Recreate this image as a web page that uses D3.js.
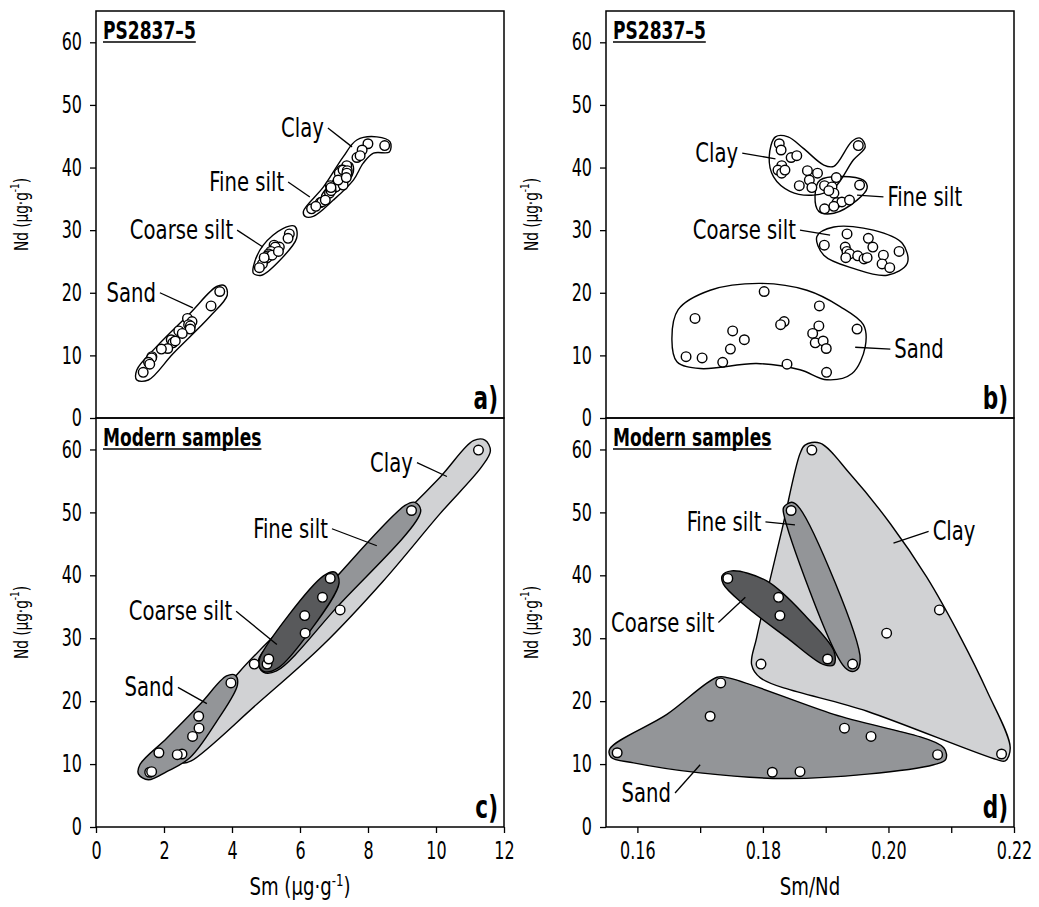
<!DOCTYPE html>
<html>
<head>
<meta charset="utf-8">
<script src="https://cdn.jsdelivr.net/npm/d3@7"></script>
<style>
body { margin: 0; background: #fff; }
text { font-family: "DejaVu Sans Condensed", "DejaVu Sans", sans-serif; fill: #000; }
</style>
</head>
<body>
<script>
// PS2837-5 core samples, [Sm, Nd] in µg/g
const coreSand = [[3.640,20.2],[3.383,17.9],[2.690,15.9],[2.824,15.4],[2.724,14.9],[2.777,14.7],[2.435,13.9],
    [2.769,14.2],[2.537,13.5],[2.213,12.5],[2.260,12.0],[2.332,12.3],[2.110,11.1],[1.923,11.0],[1.644,9.8],
    [1.635,9.6],[1.545,8.9],[1.581,8.6],[1.388,7.3]];
const coreCoarseSilt = [[5.686,29.4],[5.648,28.7],[5.238,27.6],[5.392,27.3],[5.272,27.3],[5.144,26.6],[5.078,26.2],
    [5.053,25.9],[4.981,25.4],[5.033,25.6],[5.179,26.0],[5.365,26.6],[4.895,24.6],[4.805,24.0],[4.946,25.6]];
const coreFineSilt = [[7.042,37.1],[7.048,36.9],[7.269,37.2],[6.868,35.9],[6.598,34.4],[6.644,34.5],[6.744,34.8],
    [6.340,33.4],[6.466,33.8],[6.915,36.3]];
const coreClay = [[7.998,43.8],[7.828,42.8],[7.675,41.6],[7.768,41.9],[7.375,40.3],[7.223,39.6],[7.155,39.1],
    [7.267,39.6],[6.893,37.1],[7.390,39.5],[7.378,39.1],[7.121,38.0],[6.911,36.8],[7.361,38.4],[8.491,43.5]];

// modern samples, [Sm, Nd] in µg/g
const modernClay = [[11.249,59.9],[7.180,34.5],[6.151,30.8],[4.654,25.9],[2.529,11.6]];
const modernFineSilt = [[9.280,50.3],[5.032,25.9]];
const modernCoarseSilt = [[6.889,39.5],[6.661,36.5],[6.139,33.6],[5.081,26.7]];
const modernSand = [[3.968,22.9],[3.020,17.6],[3.030,15.7],[2.840,14.4],[1.850,11.8],[2.390,11.5],[1.579,8.7],[1.636,8.8]];

// tick values
const ndTicks = [0, 10, 20, 30, 40, 50, 60];
const smTicks = [0, 2, 4, 6, 8, 10, 12];
const ratioTicks = [0.16, 0.17, 0.18, 0.19, 0.20, 0.21, 0.22];

// group outlines (data units: [x, Nd])
const aSandOutline = [[1.20,7.67],[1.78,11.4],[2.76,16.7],[3.55,21.0],[3.79,21.1],[3.86,19.6],[3.35,16.2],[2.27,10.3],[1.54,6.07],[1.20,6.07]];
const aCoarseOutline = [[4.63,24.2],[4.92,27.6],[5.51,30.3],[5.85,30.6],[5.90,28.7],[5.41,25.2],[4.87,22.8],[4.63,23.1]];
const aFineOutline = [[6.64,35.6],[6.98,38.0],[7.32,40.4],[7.52,40.7],[7.57,39.3],[7.27,36.9],[6.88,35.6],[6.64,35.1]];
const aClayOutline = [[6.10,33.0],[6.69,36.9],[7.27,41.7],[7.67,44.4],[8.26,44.9],[8.65,44.1],[8.63,42.5],[8.16,42.3],
    [7.86,40.7],[7.57,38.0],[6.98,34.8],[6.39,32.2],[6.15,32.2]];

const bClayOutline = [[0.1820,44.9],[0.1810,41.7],[0.1817,38.5],[0.1843,36.2],[0.1881,35.6],[0.1913,36.7],[0.1944,41.2],
    [0.1963,43.3],[0.1955,44.7],[0.1942,44.2],[0.1913,40.2],[0.1897,40.4],[0.1864,43.1],[0.1840,44.9]];
const bFineOutline = [[0.1891,38.0],[0.1960,38.0],[0.1966,36.7],[0.1950,34.8],[0.1913,32.7],[0.1889,33.0],[0.1883,35.4]];
const bCoarseOutline = [[0.1886,29.0],[0.1913,30.5],[0.1976,30.0],[0.2022,27.9],[0.2030,24.7],[0.1998,22.8],[0.1944,23.9],[0.1897,26.0]];
const bSandOutline = [[0.1655,12.5],[0.1665,17.3],[0.1716,20.4],[0.1796,21.5],[0.1870,20.4],[0.1923,17.8],[0.1960,14.9],
    [0.1963,11.4],[0.1942,7.1],[0.1902,6.1],[0.1859,7.7],[0.1790,8.7],[0.1700,7.9],[0.1663,9.0]];

const cClayOutline = [[11.10,61.4],[11.44,61.5],[11.60,59.8],[11.35,57.3],[10.12,49.8],[8.45,39.1],[6.69,29.0],[4.73,19.5],
    [2.80,10.5],[2.55,10.2],[2.38,11.0],[2.60,13.8],[4.24,24.8],[6.20,35.4],[8.45,46.6],[10.12,55.6]];
const cSandOutline = [[1.29,9.9],[2.08,14.1],[3.06,19.5],[3.84,24.0],[4.10,24.1],[4.16,22.6],[3.55,16.8],[2.76,11.0],
    [2.08,8.8],[1.54,7.5],[1.25,8.4]];
const cFineOutline = [[4.77,26.4],[6.69,37.5],[9.09,51.1],[9.38,51.6],[9.55,50.2],[7.08,34.9],[5.31,24.8],[4.92,24.6]];
const cCoarseOutline = [[4.82,26.9],[6.69,39.9],[7.03,40.5],[7.15,38.8],[6.29,31.1],[5.36,25.3],[4.95,24.7],[4.80,25.6]];

const dClayOutline = [[0.1867,60.7],[0.1891,61.0],[0.1939,56.1],[0.2003,48.2],[0.2061,39.7],[0.2115,30.1],[0.2157,21.6],
    [0.2194,12.6],[0.2186,10.5],[0.2173,10.7],[0.1966,18.4],[0.1796,23.7],[0.1782,25.8],[0.1790,30.1],[0.1830,47.1],[0.1859,59.3]];
const dFineOutline = [[0.1833,50.8],[0.1846,51.6],[0.1859,50.6],[0.1955,26.6],[0.1947,24.8],[0.1931,25.3],[0.1833,49.8]];
const dCoarseOutline = [[0.1735,39.9],[0.1750,40.7],[0.1806,39.1],[0.1870,33.3],[0.1913,28.0],[0.1913,25.8],[0.1897,25.8],
    [0.1838,30.1],[0.1769,35.4],[0.1737,38.6]];
const dSandOutline = [[0.1556,12.4],[0.1647,17.9],[0.1727,23.8],[0.1745,23.7],[0.1913,17.9],[0.2088,12.6],[0.2091,10.7],
    [0.2072,9.9],[0.1966,8.4],[0.1833,7.7],[0.1700,8.6],[0.1594,10.2],[0.1558,11.1]];

const width = 1039, height = 907;
const cols = [{x0: 96, x1: 504}, {x0: 606, x1: 1014}];
const rows = [{y0: 11, y1: 418}, {y0: 418, y1: 827}];

const clayFill = '#d1d2d4', midFill = '#939598', darkFill = '#58595b';

const panels = [
    {letter: 'a)', col: 0, row: 0, ratio: false, title: 'PS2837–5',
     shapes: [[aSandOutline, 'none'], [aCoarseOutline, 'none'], [aClayOutline, 'none'], [aFineOutline, 'none']],
     points: [coreSand, coreCoarseSilt, coreFineSilt, coreClay],
     labels: [['Clay', [6.82,46.3], [7.53,43.3], 'end'], ['Fine silt', [5.65,37.7], [6.29,35.3], 'end'],
              ['Coarse silt', [4.15,30.0], [4.91,27.3], 'end'], ['Sand', [1.88,20.0], [2.85,17.6], 'end']]},
    {letter: 'b)', col: 1, row: 0, ratio: true, title: 'PS2837–5',
     shapes: [[bSandOutline, 'none'], [bCoarseOutline, 'none'], [bClayOutline, 'none'], [bFineOutline, 'none']],
     points: [coreSand, coreCoarseSilt, coreFineSilt, coreClay],
     labels: [['Clay', [0.1767,42.3], [0.1820,41.4], 'end'], ['Fine silt', [0.1992,35.3], [0.1950,35.6], 'start'],
              ['Coarse silt', [0.1859,30.0], [0.1907,29.2], 'end'], ['Sand', [0.2003,11.0], [0.1947,11.3], 'start']]},
    {letter: 'c)', col: 0, row: 1, ratio: false, title: 'Modern samples',
     shapes: [[cClayOutline, clayFill], [cSandOutline, midFill], [cFineOutline, midFill], [cCoarseOutline, darkFill]],
     points: [modernClay, modernSand, modernFineSilt, modernCoarseSilt],
     labels: [['Clay', [9.44,57.9], [10.32,55.7], 'end'], ['Fine silt', [6.94,47.4], [8.26,44.7], 'end'],
              ['Coarse silt', [4.12,34.3], [5.32,29.0], 'end'], ['Sand', [2.41,22.2], [3.26,19.6], 'end']]},
    {letter: 'd)', col: 1, row: 1, ratio: true, title: 'Modern samples',
     shapes: [[dClayOutline, clayFill], [dSandOutline, midFill], [dCoarseOutline, darkFill], [dFineOutline, midFill]],
     points: [modernClay, modernSand, modernFineSilt, modernCoarseSilt],
     labels: [['Fine silt', [0.1804,48.5], [0.1851,48.0], 'end'], ['Clay', [0.2064,47.0], [0.2008,45.1], 'start'],
              ['Coarse silt', [0.1729,32.5], [0.1772,36.5], 'end'], ['Sand', [0.1660,5.4], [0.1700,9.9], 'end']]}
];

const svg = d3.select('body').append('svg')
    .attr('width', width)
    .attr('height', height);

// the figure uses a narrow technical font, so squeeze the glyphs horizontally
function narrowText(g, x, y, size, sx, anchor) {
    return g.append('text')
        .attr('transform', 'translate(' + x + ',' + y + ') scale(' + sx + ',1)')
        .attr('text-anchor', anchor)
        .attr('font-size', size);
}

function unitLabel(t, name) {
    t.append('tspan').text(name + ' (µg·g');
    t.append('tspan').attr('dy', -9).attr('font-size', '0.65em').text('-1');
    t.append('tspan').attr('dy', 9).text(')');
}

panels.forEach(p => {
    let c = cols[p.col], r = rows[p.row];
    let x = p.ratio ? d3.scaleLinear().domain([0.155, 0.22]).range([c.x0, c.x1])
                    : d3.scaleLinear().domain([0, 12]).range([c.x0, c.x1]);
    let y = d3.scaleLinear().domain([0, 65]).range([r.y1, r.y0]);
    let px = d => p.ratio ? x(d[0] / d[1]) : x(d[0]);

    let g = svg.append('g');

    // group outlines
    let outline = d3.line()
        .x(d => x(d[0]))
        .y(d => y(d[1]))
        .curve(d3.curveCatmullRomClosed.alpha(0.5));
    p.shapes.forEach(s => {
        g.append('path')
            .attr('d', outline(s[0]))
            .attr('fill', s[1])
            .attr('stroke', '#000')
            .attr('stroke-width', 1.4);
    });

    // leaders and labels
    p.labels.forEach(l => {
        g.append('line')
            .attr('x1', x(l[1][0])).attr('y1', y(l[1][1]))
            .attr('x2', x(l[2][0])).attr('y2', y(l[2][1]))
            .attr('stroke', '#000').attr('stroke-width', 1.3);
        narrowText(g, x(l[1][0]) + (l[3] === 'end' ? -4 : 4), y(l[1][1]) + 9, 26, 0.84, l[3])
            .text(l[0]);
    });

    // samples
    p.points.forEach(pts => {
        g.selectAll(null)
            .data(pts)
            .enter()
            .append('circle')
            .attr('cx', px)
            .attr('cy', d => y(d[1]))
            .attr('r', 4.8)
            .attr('fill', '#fff')
            .attr('stroke', '#000')
            .attr('stroke-width', 1.4);
    });

    // frame
    g.append('rect')
        .attr('x', c.x0).attr('y', r.y0)
        .attr('width', c.x1 - c.x0).attr('height', r.y1 - r.y0)
        .attr('fill', 'none').attr('stroke', '#000').attr('stroke-width', 1.5);

    // y axis
    let yAxis = g.append('g')
        .attr('transform', 'translate(' + c.x0 + ',0)')
        .call(d3.axisLeft(y).tickValues(ndTicks).tickSize(6).tickPadding(8));
    yAxis.select('.domain').remove();
    yAxis.selectAll('line').attr('stroke-width', 1.3);
    yAxis.selectAll('text')
        .attr('font-size', 24).attr('font-family', null)
        .attr('transform', function () { return 'translate(' + this.getAttribute('x') + ',0) scale(0.74,1)'; })
        .attr('x', 0);

    // x axis on the bottom row only
    if (p.row === 1) {
        let ticks = p.ratio ? ratioTicks : smTicks;
        let fmt = p.ratio ? (d => (Math.round(d * 100) % 2 === 0 ? d3.format('.2f')(d) : '')) : d3.format('d');
        let xAxis = g.append('g')
            .attr('transform', 'translate(0,' + r.y1 + ')')
            .call(d3.axisBottom(x).tickValues(ticks).tickSize(6).tickPadding(9).tickFormat(fmt));
        xAxis.select('.domain').remove();
        xAxis.selectAll('line').attr('stroke-width', 1.3);
        xAxis.selectAll('text').attr('font-size', 24).attr('font-family', null)
            .attr('transform', 'scale(0.74,1)');

        let xt = narrowText(g, (c.x0 + c.x1) / 2, 895, 24, 0.84, 'middle');
        if (p.ratio) {
            xt.text('Sm/Nd');
        } else {
            unitLabel(xt, 'Sm');
        }
    }

    // y axis title
    let yt = g.append('text')
        .attr('transform', 'translate(' + (c.x0 - 68) + ',' + ((r.y0 + r.y1) / 2) + ') rotate(-90) scale(0.8,1)')
        .attr('text-anchor', 'middle')
        .attr('font-size', 19);
    unitLabel(yt, 'Nd');

    // underlined title
    let sxTitle = 0.76;
    let t = narrowText(g, c.x0 + 7, r.y0 + 28, 25, sxTitle, 'start')
        .attr('font-weight', 'bold')
        .text(p.title);
    let tw = t.node().getComputedTextLength() * sxTitle;
    g.append('line')
        .attr('x1', c.x0 + 7).attr('x2', c.x0 + 7 + tw)
        .attr('y1', r.y0 + 31).attr('y2', r.y0 + 31)
        .attr('stroke', '#000').attr('stroke-width', 1.6);

    // panel letter
    narrowText(g, c.x1 - 6, r.y1 - 9, 32, 0.75, 'end')
        .attr('font-weight', 'bold')
        .text(p.letter);
});
</script>
</body>
</html>
